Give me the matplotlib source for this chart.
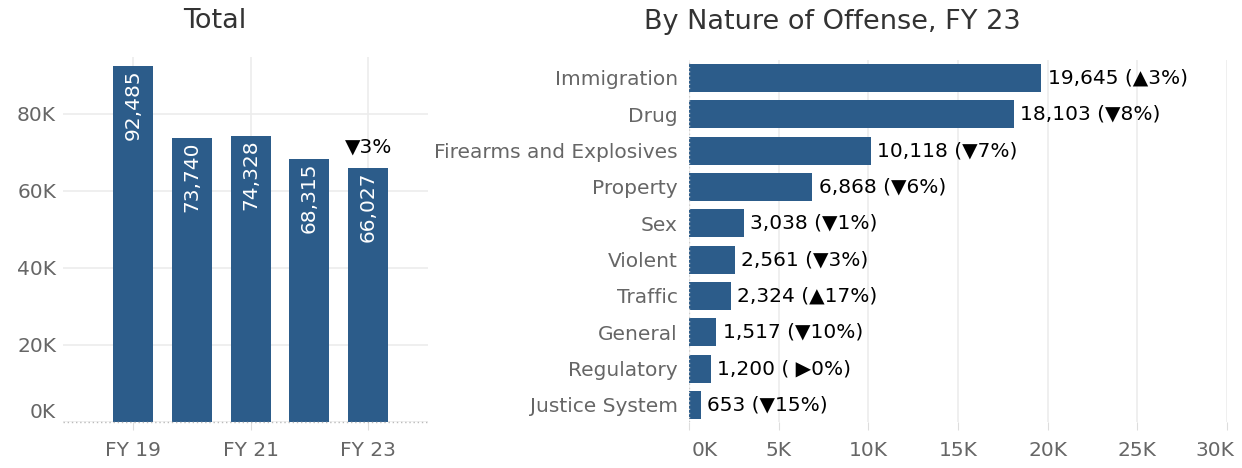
import matplotlib.pyplot as plt
from matplotlib.transforms import ScaledTranslation

plt.rcParams['font.family'] = ['DejaVu Sans']

years = ["FY 19", "FY 20", "FY 21", "FY 22", "FY 23"]
totals = [92485, 73740, 74328, 68315, 66027]
total_change = "▼3%"

offenses = ["Immigration", "Drug", "Firearms and Explosives", "Property", "Sex",
            "Violent", "Traffic", "General", "Regulatory", "Justice System"]
counts = [19645, 18103, 10118, 6868, 3038, 2561, 2324, 1517, 1200, 653]
changes = ["▲3%", "▼8%", "▼7%", "▼6%", "▼1%", "▼3%", "▲17%", "▼10%", " ▶0%", "▼15%"]

bar_color = "#2c5c8a"
grid_color = "#ececec"
tick_color = "#666666"
fs = 14.5

fig = plt.figure(figsize=(12.42, 4.68), dpi=100)

# left: totals
ax1 = fig.add_axes([0.0507, 0.0983, 0.294, 0.780])
x = list(range(len(years)))
ax1.bar(x, totals, width=0.68, color=bar_color, zorder=2)
ax1.set_xlim(-1.19, 5.02)
ax1.set_ylim(0, 94800)
ax1.set_xticks([0, 2, 4])
ax1.set_xticklabels([years[0], years[2], years[4]])
ax1.set_yticks([0, 20000, 40000, 60000, 80000])
ax1.set_yticklabels(["0K", "20K", "40K", "60K", "80K"])
for lab in ax1.get_yticklabels():
    if lab.get_text() == "0K":
        lab.set_va("bottom")
ax1.grid(True, color=grid_color, linewidth=1.2, zorder=0)
ax1.axhline(0, color="#bbbbbb", linestyle=(0, (1, 2)), linewidth=1, zorder=3, clip_on=False)
for s in ax1.spines.values():
    s.set_visible(False)
ax1.tick_params(axis="y", length=0, pad=5, labelsize=fs, labelcolor=tick_color)
ax1.tick_params(axis="x", length=6, color="#dddddd", pad=8, labelsize=fs, labelcolor=tick_color)
for xi, v in zip(x, totals):
    ax1.text(xi, v - 1000, f"{v:,}", rotation=90, ha="center", va="top",
             color="white", fontsize=fs, zorder=4)
ax1.text(x[-1], totals[-1] + 3000, total_change, ha="center", va="bottom",
         fontsize=fs, color="black")

fig.text(0.173, 0.955, "Total", ha="center", va="center", fontsize=19.5, color="#333333")

# right: by offense
ax2 = fig.add_axes([0.5548, 0.0983, 0.4332, 0.774])
y = list(range(len(offenses)))
ax2.barh(y, counts, height=0.77, color=bar_color, zorder=2)
ax2.set_ylim(9.47, -0.5)
ax2.set_xlim(0, 30000)
ax2.set_yticks(y)
ax2.set_yticklabels(offenses)
ax2.set_xticks([0, 5000, 10000, 15000, 20000, 25000, 30000])
ax2.set_xticklabels(["0K", "5K", "10K", "15K", "20K", "25K", "30K"])
ax2.grid(True, axis="x", color=grid_color, linewidth=1.2, zorder=0)
ax2.axvline(0, color="#cccccc", linestyle=(0, (1, 2)), linewidth=1, zorder=3)
for s in ax2.spines.values():
    s.set_visible(False)
ax2.tick_params(axis="y", length=0, pad=8, labelsize=fs, labelcolor=tick_color)
ax2.tick_params(axis="x", length=6, color="#dddddd", pad=8, labelsize=fs, labelcolor=tick_color)
# edge labels pulled inside like the original
xlabs = ax2.get_xticklabels()
xlabs[0].set_ha("left")
xlabs[0].set_transform(xlabs[0].get_transform() + ScaledTranslation(3 / 100, 0, fig.dpi_scale_trans))
xlabs[-1].set_ha("right")
xlabs[-1].set_transform(xlabs[-1].get_transform() + ScaledTranslation(7 / 100, 0, fig.dpi_scale_trans))
for yi, v, c in zip(y, counts, changes):
    ax2.text(v + 350, yi, f"{v:,} ({c})", ha="left", va="center", fontsize=fs, color="black")

fig.text(0.67, 0.952, "By Nature of Offense, FY 23", ha="center", va="center",
         fontsize=19.5, color="#333333")

fig.savefig("out.png", dpi=100)
